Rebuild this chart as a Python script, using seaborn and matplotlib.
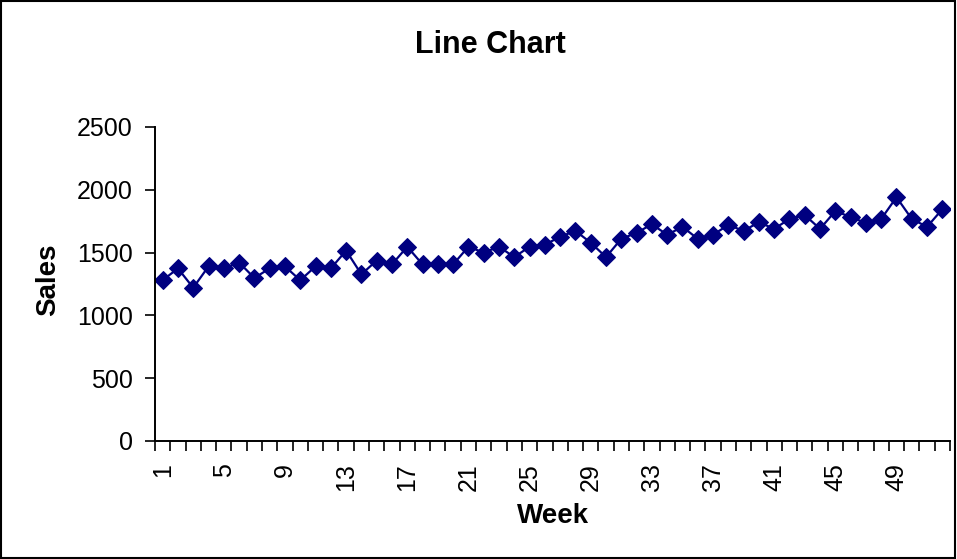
import numpy as np
import pandas as pd
import matplotlib
matplotlib.use("Agg")
import matplotlib.pyplot as plt
from matplotlib.patches import Rectangle
import seaborn as sns

# Weekly sales
weeks = list(range(1, 53))
sales = [1280, 1374, 1220, 1390, 1374, 1421, 1298, 1374, 1390, 1280,
         1390, 1374, 1516, 1327, 1437, 1406, 1547, 1406, 1406, 1406,
         1547, 1500, 1547, 1464, 1547, 1563, 1626, 1673, 1579, 1464,
         1610, 1657, 1726, 1642, 1705, 1610, 1642, 1720, 1673, 1742,
         1689, 1768, 1799, 1689, 1831, 1783, 1736, 1768, 1941, 1768,
         1705, 1846]
week_labels = list(range(1, 53, 4))
y_ticks = [0, 500, 1000, 1500, 2000, 2500]

df = pd.DataFrame({"Week": weeks, "Sales": sales})

sns.set_style("white")
plt.rcParams['font.family'] = ['Liberation Sans', 'DejaVu Sans']
plt.rcParams['text.color'] = 'black'
plt.rcParams['xtick.color'] = 'black'
plt.rcParams['ytick.color'] = 'black'

fig = plt.figure(figsize=(9.57, 5.59), dpi=100)
ax = fig.add_axes([155/957, 1-441/559, (950-155)/957, (441-127)/559])

sns.lineplot(data=df, x="Week", y="Sales", ax=ax, color="#000080",
             marker="D", markersize=9, markeredgecolor="#000080",
             linewidth=1.6)

ax.set_xlim(0.5, 52.5)
ax.set_ylim(0, 2500)
ax.set_yticks(y_ticks)
ax.set_xticks(week_labels)
ax.set_xticklabels([str(w) for w in week_labels], rotation=90, fontsize=18)
ax.set_xticks(np.arange(0.5, 53, 1), minor=True)
ax.tick_params(axis="x", which="major", length=0, pad=16)
ax.tick_params(axis="x", which="minor", length=7, width=1.2, color="black",
               direction="out", bottom=True)
ax.tick_params(axis="y", length=7, width=1.2, color="black", direction="out",
               left=True, labelsize=18, pad=9)

for s in ["top", "right"]:
    ax.spines[s].set_visible(False)
for s in ["left", "bottom"]:
    ax.spines[s].set_color("black")
    ax.spines[s].set_linewidth(1.4)

ax.set_xlabel("")
ax.set_ylabel("")
fig.text(490/957, 1-45/559, "Line Chart", ha="center", va="center",
         fontsize=22, fontweight="bold")
fig.text(48/957, 1-280/559, "Sales", ha="center", va="center",
         rotation=90, fontsize=20, fontweight="bold")
fig.text(553/957, 1-516/559, "Week", ha="center", va="center",
         fontsize=20, fontweight="bold")

fig.add_artist(Rectangle((0.001, 0.001), 0.997, 0.997, transform=fig.transFigure,
                         fill=False, edgecolor="black", linewidth=1.5))

fig.savefig("out.png", dpi=100)
